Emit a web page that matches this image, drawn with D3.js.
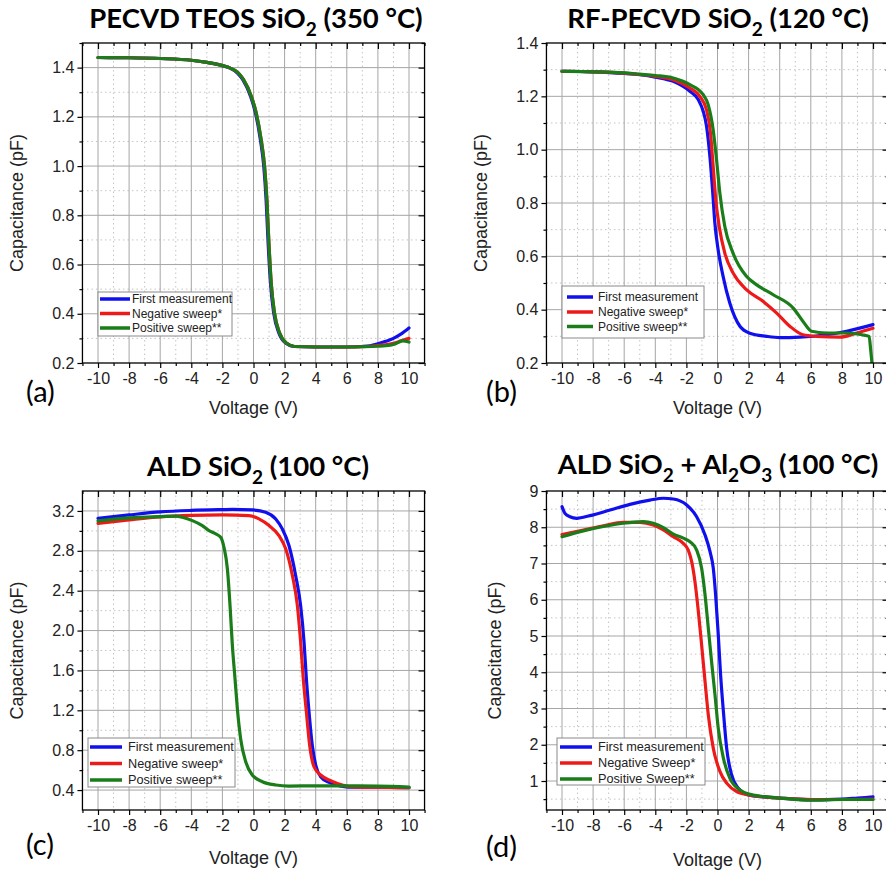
<!DOCTYPE html>
<html>
<head>
<meta charset="utf-8">
<script src="https://cdn.jsdelivr.net/npm/d3@7"></script>
<style>
  body { margin: 0; background: #fff; }
  svg { display: block; }
</style>
</head>
<body>
<svg id="fig" width="886" height="874"></svg>
<script>
// ---- C–V sweeps, [voltage (V), capacitance (pF)] ----
// (a) PECVD TEOS SiO2, 350 °C
const aFirst = [[-10,1.441],[-8,1.440],[-6,1.437],[-4,1.430],[-3,1.421],[-2,1.408],[-1.5,1.398],[-1,1.376],[-0.7,1.352],[-0.2,1.285],[0.12,1.217],[0.44,1.108],[0.66,1.0],[0.81,0.864],[0.94,0.688],[1.09,0.525],[1.3,0.403],[1.63,0.322],[2.06,0.281],[2.6,0.267],[4,0.265],[6,0.265],[7,0.267],[7.5,0.270],[8,0.278],[8.5,0.288],[9,0.300],[9.5,0.318],[10,0.342]];
const aNeg   = [[-10,1.441],[-8,1.440],[-6,1.437],[-4,1.430],[-3,1.421],[-2,1.408],[-1.5,1.398],[-1,1.380],[-0.65,1.352],[-0.15,1.285],[0.17,1.217],[0.49,1.108],[0.71,1.0],[0.86,0.864],[0.99,0.688],[1.14,0.525],[1.35,0.403],[1.68,0.322],[2.11,0.281],[2.65,0.267],[4,0.265],[6,0.265],[7,0.266],[8,0.271],[9,0.280],[9.5,0.290],[10,0.300]];
const aPos   = [[-10,1.441],[-8,1.440],[-6,1.437],[-4,1.430],[-3,1.421],[-2,1.408],[-1.5,1.398],[-1,1.380],[-0.65,1.352],[-0.15,1.285],[0.17,1.217],[0.49,1.108],[0.71,1.0],[0.86,0.864],[0.99,0.688],[1.14,0.525],[1.35,0.403],[1.68,0.322],[2.11,0.281],[2.65,0.267],[4,0.265],[6,0.265],[7,0.266],[8,0.268],[8.5,0.270],[9,0.275],[9.6,0.290],[10,0.285]];

// (b) RF-PECVD SiO2, 120 °C
const bFirst = [[-10,1.294],[-8,1.292],[-6,1.286],[-5,1.281],[-4,1.272],[-2.85,1.256],[-1.78,1.219],[-1.24,1.188],[-0.92,1.144],[-0.71,1.09],[-0.49,0.975],[-0.32,0.85],[-0.17,0.725],[0.04,0.625],[0.36,0.525],[0.79,0.425],[1.44,0.338],[2.08,0.312],[3.15,0.300],[4,0.295],[5.3,0.297],[7,0.306],[8.3,0.319],[10,0.344]];
const bNeg   = [[-10,1.294],[-8,1.292],[-6,1.287],[-5,1.282],[-4,1.275],[-2.85,1.262],[-1.78,1.231],[-1.14,1.2],[-0.71,1.15],[-0.45,1.062],[-0.28,0.938],[-0.11,0.812],[0.11,0.712],[0.47,0.612],[1.0,0.538],[1.86,0.475],[2.94,0.431],[3.79,0.388],[4.65,0.338],[5.5,0.306],[6.37,0.300],[7.87,0.297],[8.94,0.312],[10,0.330]];
const bPos   = [[-10,1.294],[-8,1.292],[-6,1.288],[-5,1.283],[-4,1.278],[-2.85,1.269],[-1.78,1.244],[-0.92,1.206],[-0.6,1.169],[-0.28,1.075],[-0.06,0.962],[0.15,0.838],[0.47,0.712],[1.0,0.612],[1.86,0.525],[2.5,0.494],[3.58,0.456],[4.87,0.406],[5.5,0.356],[6.05,0.319],[7.0,0.3125],[8.3,0.3125],[9.3,0.306],[9.75,0.300],[9.85,0.25],[9.95,0.19]];

// (c) ALD SiO2, 100 °C
const cFirst = [[-10,3.126],[-8,3.16],[-6,3.19],[-4,3.205],[-2,3.213],[-1.36,3.215],[-0.07,3.21],[0.78,3.186],[1.43,3.12],[1.85,3.02],[2.28,2.853],[2.71,2.553],[3.03,2.253],[3.25,1.886],[3.4,1.519],[3.57,1.185],[3.78,0.851],[4.0,0.651],[4.32,0.534],[4.86,0.477],[5.5,0.444],[6.1,0.430],[8,0.428],[10,0.425]];
const cNeg   = [[-10,3.076],[-8,3.11],[-6,3.14],[-4,3.155],[-2,3.16],[-0.29,3.153],[0.35,3.12],[1.0,3.053],[1.64,2.953],[2.07,2.82],[2.5,2.553],[2.82,2.253],[3.03,1.886],[3.2,1.519],[3.4,1.185],[3.61,0.851],[3.89,0.634],[4.32,0.551],[4.96,0.494],[5.71,0.451],[6.2,0.434],[8,0.428],[10,0.424]];
const cPos   = [[-10,3.10],[-8,3.13],[-6,3.143],[-5,3.148],[-4.58,3.136],[-3.93,3.103],[-3.29,3.053],[-2.86,3.003],[-2.43,2.97],[-2.11,2.936],[-1.9,2.836],[-1.68,2.62],[-1.51,2.253],[-1.36,1.853],[-1.19,1.519],[-1.04,1.219],[-0.83,0.918],[-0.5,0.684],[-0.08,0.551],[0.57,0.484],[1.43,0.451],[2.28,0.440],[4,0.442],[6,0.442],[8,0.440],[10,0.430]];

// (d) ALD SiO2 + Al2O3, 100 °C
const dFirst = [[-10,8.568],[-9.81,8.384],[-9.49,8.29],[-9.06,8.246],[-8.2,8.32],[-6.91,8.476],[-5.63,8.632],[-4.34,8.75],[-3.48,8.80],[-2.84,8.78],[-1.98,8.614],[-1.34,8.29],[-0.8,7.786],[-0.48,7.326],[-0.27,6.867],[-0.12,6.13],[0.05,5.03],[0.2,3.924],[0.38,2.913],[0.59,1.9],[0.91,1.166],[1.34,0.80],[2,0.614],[3,0.56],[4,0.53],[6,0.48],[8,0.50],[9,0.53],[10,0.56]];
const dNeg   = [[-10,7.80],[-8.63,7.92],[-7.34,8.04],[-6.06,8.135],[-4.98,8.135],[-4.13,8.06],[-3.48,7.925],[-2.84,7.74],[-2.2,7.556],[-1.88,7.37],[-1.66,7.05],[-1.45,6.50],[-1.23,5.67],[-1.02,4.75],[-0.8,3.74],[-0.59,2.82],[-0.27,1.90],[0.16,1.26],[0.59,0.94],[1.23,0.71],[2.09,0.61],[3,0.56],[4,0.53],[6,0.49],[8,0.49],[10,0.50]];
const dPos   = [[-10,7.74],[-8.63,7.90],[-7.34,8.02],[-6.06,8.11],[-4.77,8.154],[-4.13,8.11],[-3.48,7.99],[-2.84,7.81],[-2.2,7.70],[-1.77,7.60],[-1.34,7.37],[-1.02,6.867],[-0.8,6.13],[-0.59,5.21],[-0.38,4.29],[-0.16,3.37],[0.05,2.45],[0.38,1.63],[0.8,1.07],[1.45,0.75],[2.3,0.61],[3,0.57],[4,0.53],[6,0.47],[8,0.49],[10,0.49]];

// ---- legend entries, colours, ticks, titles ----
const legendLower = ["First measurement", "Negative sweep*", "Positive sweep**"];
const legendUpper = ["First measurement", "Negative Sweep*", "Positive Sweep**"];
const seriesColors = ["#1010ee", "#ee1a1a", "#1a7d1a"];

const xMajor = [-10, -8, -6, -4, -2, 0, 2, 4, 6, 8, 10];
const xMinor = [-11, -9, -7, -5, -3, -1, 1, 3, 5, 7, 9, 11];

const yMajorAB = [0.2, 0.4, 0.6, 0.8, 1.0, 1.2, 1.4];
const yMinorAB = [0.3, 0.5, 0.7, 0.9, 1.1, 1.3, 1.5];
const yMajorC  = [0.4, 0.8, 1.2, 1.6, 2.0, 2.4, 2.8, 3.2];
const yMinorC  = [0.6, 1.0, 1.4, 1.8, 2.2, 2.6, 3.0];
const yMajorD  = [1, 2, 3, 4, 5, 6, 7, 8, 9];
const yMinorD  = [0.5, 1.5, 2.5, 3.5, 4.5, 5.5, 6.5, 7.5, 8.5];

// "_" marks a subscript piece
const titleA = ["PECVD TEOS SiO", "_2", " (350 °C)"];
const titleB = ["RF-PECVD SiO", "_2", " (120 °C)"];
const titleC = ["ALD SiO", "_2", " (100 °C)"];
const titleD = ["ALD SiO", "_2", " + Al", "_2", "O", "_3", " (100 °C)"];

const xLabel = "Voltage (V)";
const yLabel = "Capacitance (pF)";

// ---- panel layout ----
const panels = [
  { tag: "(a)", title: titleA, series: [aFirst, aNeg, aPos], names: legendLower,
    xr: [82.45, 424.55], yr: [363, 43], yd: [0.2, 1.5], yMajor: yMajorAB, yMinor: yMinorAB, yFmt: d3.format(".1f"),
    titleXY: [256, 28], tagXY: [26, 402], yLabX: 23, xLabY: 414,
    legend: { x: 98, y: 292, w: 134, h: 44, lx0: 100, lx1: 130, tx: 132, rows: [299, 313.5, 328], fs: 12 } },
  { tag: "(b)", title: titleB, series: [bFirst, bNeg, bPos], names: legendLower,
    xr: [546.45, 888.55], yr: [363, 43], yd: [0.2, 1.4], yMajor: yMajorAB, yMinor: yMinorAB, yFmt: d3.format(".1f"),
    titleXY: [718, 28], tagXY: [486, 402], yLabX: 487, xLabY: 414,
    legend: { x: 562, y: 286, w: 142, h: 52, lx0: 567, lx1: 593, tx: 598, rows: [297, 312, 326.5], fs: 12 } },
  { tag: "(c)", title: titleC, series: [cFirst, cNeg, cPos], names: legendLower,
    xr: [82.45, 424.55], yr: [810, 491], yd: [0.2, 3.4], yMajor: yMajorC, yMinor: yMinorC, yFmt: d3.format(".1f"),
    titleXY: [258, 476], tagXY: [26, 855], yLabX: 23, xLabY: 864,
    legend: { x: 88, y: 738, w: 147, h: 49, lx0: 90, lx1: 122, tx: 128, rows: [747, 763.5, 780], fs: 12.7 } },
  { tag: "(d)", title: titleD, series: [dFirst, dNeg, dPos], names: legendUpper,
    xr: [546.45, 888.55], yr: [810, 491], yd: [0.2, 9], yMajor: yMajorD, yMinor: yMinorD, yFmt: d3.format("d"),
    titleXY: [718, 474], tagXY: [486, 857], yLabX: 501, xLabY: 866,
    legend: { x: 557, y: 738, w: 148, h: 47, lx0: 560, lx1: 592, tx: 598, rows: [747, 763, 779], fs: 12.7 } }
];

const svg = d3.select("#fig");
const AXIS_FONT = "'Liberation Sans', Arial, sans-serif";
const TITLE_FONT = "Lato, 'Open Sans', sans-serif";

svg.append("rect").attr("width", 886).attr("height", 874).attr("fill", "#fff");

panels.forEach((p, i) => {
  const x = d3.scaleLinear().domain([-11, 11]).range(p.xr);
  const y = d3.scaleLinear().domain(p.yd).range(p.yr);
  const [x0, x1] = p.xr, [yb, yt] = p.yr;
  const g = svg.append("g");

  // clip region for curves
  const clipId = "clip" + i;
  svg.append("clipPath").attr("id", clipId)
    .append("rect").attr("x", x0).attr("y", yt).attr("width", x1 - x0).attr("height", yb - yt);

  // grid: dotted minor, solid major
  const grid = g.append("g");
  grid.selectAll(".vmin").data(xMinor.filter(v => v > -11 && v < 11)).join("line")
    .attr("x1", d => x(d)).attr("x2", d => x(d)).attr("y1", yt).attr("y2", yb)
    .attr("stroke", "#c4c4c4").attr("stroke-width", 1).attr("stroke-dasharray", "1.5,3");
  grid.selectAll(".hmin").data(p.yMinor.filter(v => v > p.yd[0] && v < p.yd[1])).join("line")
    .attr("x1", x0).attr("x2", x1).attr("y1", d => y(d)).attr("y2", d => y(d))
    .attr("stroke", "#c4c4c4").attr("stroke-width", 1).attr("stroke-dasharray", "1.5,3");
  grid.selectAll(".vmaj").data(xMajor).join("line")
    .attr("x1", d => x(d)).attr("x2", d => x(d)).attr("y1", yt).attr("y2", yb)
    .attr("stroke", "#a6a6a6").attr("stroke-width", 1);
  grid.selectAll(".hmaj").data(p.yMajor.filter(v => v > p.yd[0] && v < p.yd[1])).join("line")
    .attr("x1", x0).attr("x2", x1).attr("y1", d => y(d)).attr("y2", d => y(d))
    .attr("stroke", "#a6a6a6").attr("stroke-width", 1);

  // curves
  const line = d3.line().x(d => x(d[0])).y(d => y(d[1])).curve(d3.curveMonotoneX);
  g.append("g").attr("clip-path", `url(#${clipId})`)
    .selectAll("path").data(p.series).join("path")
    .attr("d", line).attr("fill", "none")
    .attr("stroke", (d, k) => seriesColors[k]).attr("stroke-width", 3.2)
    .attr("stroke-linejoin", "round").attr("stroke-linecap", "round");

  // axes: outward ticks on bottom/left, inward on top/right
  const styleAxis = sel => {
    sel.select(".domain").remove();
    sel.selectAll("line").attr("stroke", "#000").attr("stroke-width", 1.2);
    sel.selectAll("text").attr("font-family", AXIS_FONT).attr("font-size", 16).attr("fill", "#222");
  };
  const xFmt = d => String(d);
  g.append("g").attr("transform", `translate(0,${yb})`)
    .call(d3.axisBottom(x).tickValues(xMajor).tickSize(5).tickPadding(5).tickFormat(xFmt)).call(styleAxis);
  g.append("g").attr("transform", `translate(0,${yb})`)
    .call(d3.axisBottom(x).tickValues(xMinor).tickSize(3).tickFormat("")).call(styleAxis);
  g.append("g").attr("transform", `translate(0,${yt})`)
    .call(d3.axisTop(x).tickValues(xMajor).tickSize(-6).tickFormat("")).call(styleAxis);
  g.append("g").attr("transform", `translate(0,${yt})`)
    .call(d3.axisTop(x).tickValues(xMinor).tickSize(-3).tickFormat("")).call(styleAxis);

  g.append("g").attr("transform", `translate(${x0},0)`)
    .call(d3.axisLeft(y).tickValues(p.yMajor).tickSize(5).tickPadding(3).tickFormat(p.yFmt)).call(styleAxis);
  g.append("g").attr("transform", `translate(${x0},0)`)
    .call(d3.axisLeft(y).tickValues(p.yMinor.filter(v => v <= p.yd[1])).tickSize(3).tickFormat("")).call(styleAxis);
  g.append("g").attr("transform", `translate(${x1},0)`)
    .call(d3.axisRight(y).tickValues(p.yMajor).tickSize(-6).tickFormat("")).call(styleAxis);
  g.append("g").attr("transform", `translate(${x1},0)`)
    .call(d3.axisRight(y).tickValues(p.yMinor.filter(v => v <= p.yd[1])).tickSize(-3).tickFormat("")).call(styleAxis);

  // frame
  g.append("rect").attr("x", x0).attr("y", yt).attr("width", x1 - x0).attr("height", yb - yt)
    .attr("fill", "none").attr("stroke", "#000").attr("stroke-width", 1.3);

  // legend
  const L = p.legend;
  const lg = g.append("g");
  lg.append("rect").attr("x", L.x).attr("y", L.y).attr("width", L.w).attr("height", L.h)
    .attr("fill", "#fff").attr("stroke", "#8a8a8a").attr("stroke-width", 1);
  p.names.forEach((name, k) => {
    lg.append("line").attr("x1", L.lx0).attr("x2", L.lx1).attr("y1", L.rows[k]).attr("y2", L.rows[k])
      .attr("stroke", seriesColors[k]).attr("stroke-width", 3.5);
    lg.append("text").attr("x", L.tx).attr("y", L.rows[k]).attr("dy", "0.35em")
      .attr("font-family", AXIS_FONT).attr("font-size", L.fs).attr("fill", "#222").text(name);
  });

  // axis titles
  g.append("text").attr("x", (x(-10) + x(10)) / 2).attr("y", p.xLabY)
    .attr("text-anchor", "middle").attr("font-family", AXIS_FONT).attr("font-size", 18).attr("fill", "#222")
    .text(xLabel);
  g.append("text").attr("transform", `translate(${p.yLabX},${(yb + yt) / 2}) rotate(-90)`)
    .attr("text-anchor", "middle").attr("font-family", AXIS_FONT).attr("font-size", 18).attr("fill", "#222")
    .text(yLabel);

  // panel title with subscripts
  const t = g.append("text").attr("x", p.titleXY[0]).attr("y", p.titleXY[1])
    .attr("text-anchor", "middle").attr("font-family", TITLE_FONT).attr("font-weight", 700)
    .attr("font-size", 27.5).attr("fill", "#000");
  let shifted = false;
  p.title.forEach(part => {
    if (part.startsWith("_")) {
      t.append("tspan").attr("font-size", 19).attr("dy", 7.5).text(part.slice(1));
      shifted = true;
    } else {
      const ts = t.append("tspan").text(part);
      if (shifted) { ts.attr("dy", -7.5); shifted = false; }
    }
  });

  // panel tag
  g.append("text").attr("x", p.tagXY[0]).attr("y", p.tagXY[1])
    .attr("font-family", TITLE_FONT).attr("font-size", 29).attr("fill", "#000").text(p.tag);
});
</script>
</body>
</html>
